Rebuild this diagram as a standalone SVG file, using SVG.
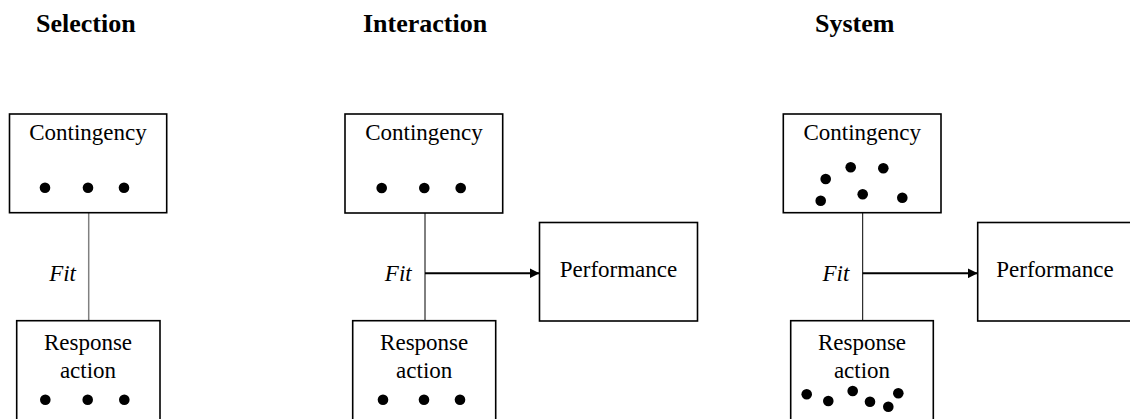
<svg xmlns="http://www.w3.org/2000/svg" width="1130" height="419" viewBox="0 0 1130 419">
<style>
.title{font-family:"Liberation Serif","Times New Roman",serif;font-weight:bold;font-size:26px;fill:#000}
.lbl{font-family:"Liberation Serif","Times New Roman",serif;font-size:23px;fill:#000;text-anchor:middle}
.fit{font-family:"Liberation Serif","Times New Roman",serif;font-size:23px;font-style:italic;fill:#000;text-anchor:end}
.box{fill:#fff;stroke:#000;stroke-width:1.6}
.dot{fill:#000}
</style>
<defs>
<marker id="ah" markerWidth="10" markerHeight="10" refX="10" refY="5" orient="auto" markerUnits="userSpaceOnUse">
<path d="M0,0 L10,5 L0,10 Z" fill="#000"/>
</marker>
</defs>
<rect width="1130" height="419" fill="#fff"/>
<g id="titles">
<text class="title" x="36" y="32">Selection</text>
<text class="title" x="363" y="32">Interaction</text>
<text class="title" x="815" y="32">System</text>
</g>
<g id="connectors">
<line x1="88.7" y1="212.7" x2="88.7" y2="320.7" stroke="#808080" stroke-width="1.5"/>
<line x1="425" y1="213" x2="425" y2="320.7" stroke="#000" stroke-width="1"/>
<line x1="425" y1="273.3" x2="539.5" y2="273.3" stroke="#000" stroke-width="2" marker-end="url(#ah)"/>
<line x1="862.7" y1="212.7" x2="862.7" y2="320.7" stroke="#000" stroke-width="1"/>
<line x1="862.7" y1="273.3" x2="977.7" y2="273.3" stroke="#000" stroke-width="2" marker-end="url(#ah)"/>
<text class="fit" x="76" y="281">Fit</text>
<text class="fit" x="411.7" y="281">Fit</text>
<text class="fit" x="849.3" y="281">Fit</text>
</g>
<g id="sel-contingency">
<rect class="box" x="9.5" y="114" width="157.2" height="98.7"/>
<text class="lbl" x="88" y="140">Contingency</text>
<circle class="dot" cx="45" cy="187.7" r="5.3"/>
<circle class="dot" cx="88" cy="187.7" r="5.3"/>
<circle class="dot" cx="124" cy="187.7" r="5.3"/>
</g>
<g id="sel-response">
<rect class="box" x="16.7" y="320.7" width="143.3" height="120"/>
<text class="lbl" x="88" y="350">Response</text>
<text class="lbl" x="88" y="378">action</text>
<circle class="dot" cx="45.3" cy="399.7" r="5.3"/>
<circle class="dot" cx="87.7" cy="399.7" r="5.3"/>
<circle class="dot" cx="124.3" cy="399.7" r="5.3"/>
</g>
<g id="int-contingency">
<rect class="box" x="345" y="114" width="157.7" height="99"/>
<text class="lbl" x="424" y="140">Contingency</text>
<circle class="dot" cx="381.7" cy="188" r="5.3"/>
<circle class="dot" cx="424.3" cy="188" r="5.3"/>
<circle class="dot" cx="460.7" cy="188" r="5.3"/>
</g>
<g id="int-response">
<rect class="box" x="352.7" y="320.7" width="143" height="120"/>
<text class="lbl" x="424.2" y="350">Response</text>
<text class="lbl" x="424.2" y="378">action</text>
<circle class="dot" cx="383" cy="399.7" r="5.3"/>
<circle class="dot" cx="424" cy="399.7" r="5.3"/>
<circle class="dot" cx="460" cy="399.7" r="5.3"/>
</g>
<g id="int-performance">
<rect class="box" x="539.5" y="222.5" width="158" height="98.5"/>
<text class="lbl" x="618.5" y="277">Performance</text>
</g>
<g id="sys-contingency">
<rect class="box" x="783.3" y="114" width="157.7" height="98.7"/>
<text class="lbl" x="862.2" y="140">Contingency</text>
<circle class="dot" cx="825.7" cy="179" r="5.3"/>
<circle class="dot" cx="850.7" cy="167.3" r="5.3"/>
<circle class="dot" cx="883.3" cy="168.3" r="5.3"/>
<circle class="dot" cx="820.7" cy="200.7" r="5.3"/>
<circle class="dot" cx="862.7" cy="194.3" r="5.3"/>
<circle class="dot" cx="902.3" cy="197.7" r="5.3"/>
</g>
<g id="sys-response">
<rect class="box" x="790.7" y="320.7" width="142.6" height="120"/>
<text class="lbl" x="862" y="350">Response</text>
<text class="lbl" x="862" y="378">action</text>
<circle class="dot" cx="806.7" cy="394.3" r="5.3"/>
<circle class="dot" cx="828.3" cy="401" r="5.3"/>
<circle class="dot" cx="852.7" cy="391" r="5.3"/>
<circle class="dot" cx="870" cy="401.7" r="5.3"/>
<circle class="dot" cx="888.3" cy="406.7" r="5.3"/>
<circle class="dot" cx="898.3" cy="393.3" r="5.3"/>
</g>
<g id="sys-performance">
<rect class="box" x="977.7" y="222.5" width="170" height="98.5"/>
<text class="lbl" x="1055" y="277">Performance</text>
</g>
</svg>
